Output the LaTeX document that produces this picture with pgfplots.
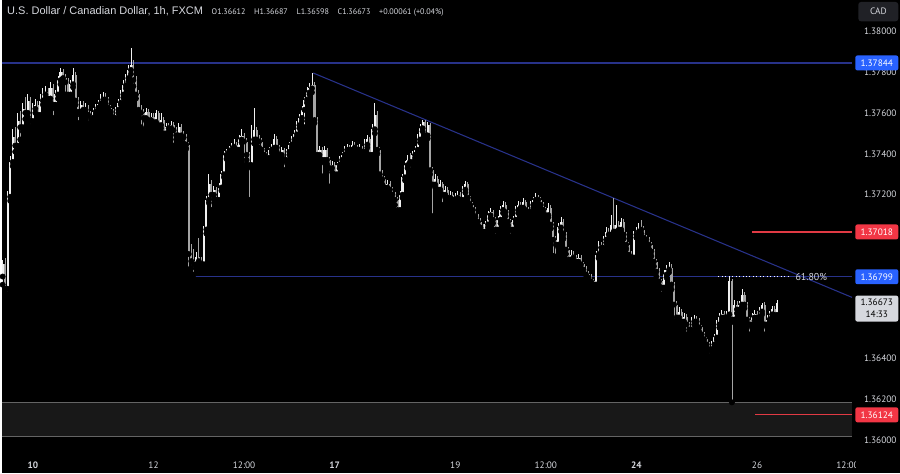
\documentclass[border=0pt]{standalone}
\usepackage{fontspec}
\setmainfont{PT Sans}
\newfontfamily\titlefont{Liberation Sans}
\usepackage{pgfplots}
\usepackage{pgfplotstable}
\pgfplotsset{compat=1.18}
\definecolor{txt}{RGB}{214,216,222}
\definecolor{upc}{RGB}{240,240,240}
\definecolor{dnc}{RGB}{165,165,165}
\definecolor{hblue}{RGB}{41,98,255}
\definecolor{lblue}{RGB}{40,50,138}
\definecolor{lred}{RGB}{225,58,68}
\definecolor{bred}{RGB}{242,54,69}
\definecolor{boxc}{RGB}{24,24,24}
\definecolor{boxl}{RGB}{100,100,100}
\definecolor{cadbg}{RGB}{32,33,38}

\pgfplotstableread{
t o h l c
-12 1.36800 1.36880 1.36760 1.36860
-11 1.36860 1.36890 1.36720 1.36740
-10 1.36740 1.37220 1.36710 1.37190
-9 1.37190 1.37390 1.37170 1.37360
-8 1.37360 1.37520 1.37340 1.37480
-7 1.37480 1.37530 1.37410 1.37440
-6 1.37440 1.37600 1.37420 1.37560
-5 1.37560 1.37610 1.37470 1.37530
-4 1.37530 1.37650 1.37510 1.37620
-3 1.37620 1.37680 1.37570 1.37600
-2 1.37600 1.37690 1.37580 1.37660
-1 1.37660 1.37680 1.37530 1.37560
0 1.37560 1.37650 1.37540 1.37620
1 1.37620 1.37670 1.37600 1.37640
2 1.37640 1.37660 1.37570 1.37590
3 1.37590 1.37690 1.37580 1.37660
4 1.37660 1.37720 1.37640 1.37690
5 1.37690 1.37730 1.37670 1.37700
6 1.37700 1.37720 1.37650 1.37670
7 1.37670 1.37750 1.37650 1.37720
8 1.37720 1.37740 1.37575 1.37640
9 1.37640 1.37710 1.37620 1.37690
10 1.37690 1.37780 1.37670 1.37760
11 1.37760 1.37820 1.37740 1.37800
12 1.37800 1.37815 1.37750 1.37770
13 1.37770 1.37790 1.37690 1.37750
14 1.37750 1.37770 1.37670 1.37690
15 1.37690 1.37760 1.37670 1.37740
16 1.37740 1.37820 1.37725 1.37785
17 1.37785 1.37800 1.37640 1.37660
18 1.37660 1.37680 1.37550 1.37605
19 1.37605 1.37660 1.37590 1.37640
20 1.37640 1.37660 1.37600 1.37615
21 1.37615 1.37650 1.37600 1.37625
22 1.37625 1.37640 1.37545 1.37590
23 1.37590 1.37610 1.37555 1.37575
24 1.37575 1.37625 1.37560 1.37605
25 1.37605 1.37645 1.37590 1.37625
26 1.37625 1.37665 1.37610 1.37645
27 1.37645 1.37690 1.37630 1.37665
28 1.37665 1.37700 1.37650 1.37680
29 1.37680 1.37695 1.37645 1.37665
30 1.37665 1.37680 1.37605 1.37625
31 1.37625 1.37640 1.37590 1.37605
32 1.37605 1.37620 1.37550 1.37575
33 1.37575 1.37630 1.37560 1.37615
34 1.37615 1.37670 1.37600 1.37650
35 1.37650 1.37710 1.37640 1.37690
36 1.37690 1.37760 1.37675 1.37735
37 1.37735 1.37790 1.37720 1.37770
38 1.37770 1.37835 1.37755 1.37810
39 1.37810 1.37915 1.37790 1.37835
40 1.37835 1.37860 1.37730 1.37760
41 1.37760 1.37780 1.37670 1.37690
42 1.37690 1.37710 1.37595 1.37615
43 1.37615 1.37640 1.37530 1.37600
44 1.37600 1.37620 1.37515 1.37575
45 1.37575 1.37625 1.37560 1.37605
46 1.37605 1.37620 1.37550 1.37565
47 1.37565 1.37600 1.37545 1.37580
48 1.37580 1.37600 1.37535 1.37555
49 1.37555 1.37615 1.37540 1.37600
50 1.37600 1.37610 1.37520 1.37540
51 1.37540 1.37600 1.37525 1.37565
52 1.37565 1.37580 1.37470 1.37500
53 1.37500 1.37550 1.37485 1.37530
54 1.37530 1.37550 1.37505 1.37525
55 1.37525 1.37560 1.37510 1.37540
56 1.37540 1.37555 1.37440 1.37515
57 1.37515 1.37530 1.37470 1.37490
58 1.37490 1.37550 1.37475 1.37530
59 1.37530 1.37545 1.37470 1.37490
60 1.37490 1.37510 1.37450 1.37480
61 1.37480 1.37495 1.37425 1.37445
62 1.37445 1.37460 1.36835 1.36910
63 1.36910 1.36960 1.36840 1.36875
64 1.36875 1.36935 1.36810 1.36860
65 1.36860 1.36920 1.36840 1.36895
66 1.36895 1.36990 1.36860 1.36875
67 1.36875 1.36895 1.36835 1.36860
68 1.36860 1.37045 1.36840 1.37030
69 1.37030 1.37195 1.37010 1.37175
70 1.37175 1.37300 1.37160 1.37250
71 1.37250 1.37270 1.37125 1.37200
72 1.37200 1.37245 1.37180 1.37225
73 1.37225 1.37240 1.37150 1.37175
74 1.37175 1.37255 1.37160 1.37235
75 1.37235 1.37315 1.37220 1.37300
76 1.37300 1.37415 1.37285 1.37395
77 1.37395 1.37425 1.37375 1.37410
78 1.37410 1.37440 1.37380 1.37420
79 1.37420 1.37455 1.37400 1.37435
80 1.37435 1.37470 1.37420 1.37445
81 1.37445 1.37460 1.37400 1.37420
82 1.37420 1.37490 1.37405 1.37470
83 1.37470 1.37520 1.37455 1.37485
84 1.37485 1.37500 1.37345 1.37460
85 1.37460 1.37475 1.37370 1.37395
86 1.37395 1.37410 1.37175 1.37345
87 1.37345 1.37540 1.37330 1.37470
88 1.37470 1.37625 1.37450 1.37515
89 1.37515 1.37530 1.37450 1.37470
90 1.37470 1.37490 1.37430 1.37460
91 1.37460 1.37475 1.37400 1.37420
92 1.37420 1.37430 1.37375 1.37395
93 1.37395 1.37410 1.37360 1.37380
94 1.37380 1.37435 1.37370 1.37420
95 1.37420 1.37450 1.37405 1.37430
96 1.37430 1.37495 1.37415 1.37470
97 1.37470 1.37485 1.37410 1.37430
98 1.37430 1.37445 1.37380 1.37395
99 1.37395 1.37435 1.37385 1.37420
100 1.37420 1.37430 1.37320 1.37370
101 1.37370 1.37425 1.37355 1.37410
102 1.37410 1.37460 1.37395 1.37445
103 1.37445 1.37485 1.37430 1.37470
104 1.37470 1.37515 1.37455 1.37495
105 1.37495 1.37560 1.37480 1.37540
106 1.37540 1.37595 1.37525 1.37575
107 1.37575 1.37635 1.37560 1.37615
108 1.37615 1.37680 1.37530 1.37665
109 1.37665 1.37725 1.37650 1.37700
110 1.37700 1.37745 1.37690 1.37720
111 1.37720 1.37795 1.37700 1.37735
112 1.37735 1.37750 1.37550 1.37565
113 1.37565 1.37580 1.37375 1.37395
114 1.37395 1.37440 1.37380 1.37420
115 1.37420 1.37435 1.37290 1.37370
116 1.37370 1.37440 1.37355 1.37420
117 1.37420 1.37430 1.37350 1.37370
118 1.37370 1.37385 1.37240 1.37330
119 1.37330 1.37365 1.37310 1.37345
120 1.37345 1.37360 1.37280 1.37300
121 1.37300 1.37360 1.37285 1.37345
122 1.37345 1.37390 1.37330 1.37370
123 1.37370 1.37410 1.37355 1.37395
124 1.37395 1.37440 1.37380 1.37420
125 1.37420 1.37450 1.37405 1.37430
126 1.37430 1.37445 1.37400 1.37420
127 1.37420 1.37465 1.37405 1.37445
128 1.37445 1.37460 1.37410 1.37430
129 1.37430 1.37445 1.37400 1.37420
130 1.37420 1.37450 1.37405 1.37430
131 1.37430 1.37440 1.37390 1.37410
132 1.37410 1.37470 1.37395 1.37445
133 1.37445 1.37490 1.37430 1.37470
134 1.37470 1.37480 1.37370 1.37395
135 1.37395 1.37545 1.37380 1.37520
136 1.37520 1.37650 1.37500 1.37590
137 1.37590 1.37610 1.37400 1.37420
138 1.37420 1.37435 1.37280 1.37300
139 1.37300 1.37320 1.37250 1.37275
140 1.37275 1.37290 1.37210 1.37235
141 1.37235 1.37270 1.37220 1.37250
142 1.37250 1.37265 1.37205 1.37225
143 1.37225 1.37240 1.37180 1.37200
144 1.37200 1.37215 1.37150 1.37175
145 1.37175 1.37190 1.37100 1.37125
146 1.37125 1.37220 1.37110 1.37200
147 1.37200 1.37300 1.37185 1.37285
148 1.37285 1.37365 1.37270 1.37345
149 1.37345 1.37395 1.37330 1.37370
150 1.37370 1.37405 1.37320 1.37360
151 1.37360 1.37415 1.37345 1.37395
152 1.37395 1.37440 1.37380 1.37420
153 1.37420 1.37495 1.37405 1.37470
154 1.37470 1.37545 1.37455 1.37525
155 1.37525 1.37565 1.37510 1.37555
156 1.37555 1.37565 1.37470 1.37490
157 1.37490 1.37555 1.37475 1.37540
158 1.37540 1.37550 1.37300 1.37320
159 1.37320 1.37335 1.37095 1.37250
160 1.37250 1.37300 1.37235 1.37275
161 1.37275 1.37290 1.37205 1.37225
162 1.37225 1.37270 1.37210 1.37250
163 1.37250 1.37260 1.37150 1.37200
164 1.37200 1.37245 1.37185 1.37225
165 1.37225 1.37240 1.37165 1.37185
166 1.37185 1.37220 1.37170 1.37200
167 1.37200 1.37215 1.37150 1.37175
168 1.37175 1.37210 1.37160 1.37185
169 1.37185 1.37220 1.37170 1.37200
170 1.37200 1.37215 1.37160 1.37175
171 1.37175 1.37245 1.37160 1.37225
172 1.37225 1.37265 1.37210 1.37250
173 1.37250 1.37260 1.37165 1.37185
174 1.37185 1.37195 1.37130 1.37150
175 1.37150 1.37165 1.37105 1.37125
176 1.37125 1.37140 1.37070 1.37090
177 1.37090 1.37105 1.37050 1.37068
178 1.37068 1.37085 1.37020 1.37040
179 1.37040 1.37055 1.36995 1.37020
180 1.37020 1.37070 1.37005 1.37055
181 1.37055 1.37120 1.37040 1.37100
182 1.37100 1.37135 1.37085 1.37115
183 1.37115 1.37125 1.37060 1.37078
184 1.37078 1.37090 1.36995 1.37030
185 1.37030 1.37095 1.37015 1.37078
186 1.37078 1.37145 1.37060 1.37125
187 1.37125 1.37170 1.37110 1.37150
188 1.37150 1.37165 1.37095 1.37115
189 1.37115 1.37125 1.37050 1.37068
190 1.37068 1.37080 1.36995 1.37030
191 1.37030 1.37095 1.37015 1.37078
192 1.37078 1.37145 1.37060 1.37125
193 1.37125 1.37170 1.37110 1.37150
194 1.37150 1.37165 1.37115 1.37137
195 1.37137 1.37185 1.37120 1.37165
196 1.37165 1.37175 1.37105 1.37125
197 1.37125 1.37140 1.37095 1.37115
198 1.37115 1.37170 1.37100 1.37150
199 1.37150 1.37190 1.37135 1.37175
200 1.37175 1.37210 1.37160 1.37185
201 1.37185 1.37200 1.37155 1.37175
202 1.37175 1.37190 1.37130 1.37150
203 1.37150 1.37165 1.37105 1.37125
204 1.37125 1.37140 1.37080 1.37100
205 1.37100 1.37160 1.37090 1.37137
206 1.37137 1.37150 1.37035 1.37054
207 1.37054 1.37065 1.36900 1.36980
208 1.36980 1.37000 1.36898 1.36956
209 1.36956 1.37060 1.36940 1.37040
210 1.37040 1.37093 1.37020 1.37068
211 1.37068 1.37080 1.36985 1.37005
212 1.37005 1.37020 1.36910 1.36932
213 1.36932 1.36945 1.36860 1.36883
214 1.36883 1.36930 1.36870 1.36907
215 1.36907 1.36925 1.36870 1.36893
216 1.36893 1.36905 1.36850 1.36873
217 1.36873 1.36910 1.36860 1.36893
218 1.36893 1.36905 1.36840 1.36859
219 1.36859 1.36870 1.36815 1.36834
220 1.36834 1.36850 1.36790 1.36810
221 1.36810 1.36825 1.36775 1.36795
222 1.36795 1.36810 1.36755 1.36776
223 1.36776 1.36790 1.36746 1.36761
224 1.36761 1.36925 1.36750 1.36907
225 1.36907 1.36975 1.36890 1.36956
226 1.36956 1.36970 1.36920 1.36941
227 1.36941 1.37000 1.36925 1.36980
228 1.36980 1.37040 1.36965 1.37020
229 1.37020 1.37035 1.36985 1.37005
230 1.37005 1.37102 1.36990 1.37054
231 1.37054 1.37185 1.36995 1.37020
232 1.37020 1.37151 1.37005 1.37054
233 1.37054 1.37070 1.37010 1.37029
234 1.37029 1.37085 1.37015 1.37068
235 1.37068 1.37080 1.36985 1.37005
236 1.37005 1.37020 1.36935 1.36956
237 1.36956 1.36970 1.36885 1.36907
238 1.36907 1.36925 1.36873 1.36893
239 1.36893 1.37025 1.36880 1.37005
240 1.37005 1.37040 1.36990 1.37020
241 1.37020 1.37060 1.37005 1.37039
242 1.37039 1.37078 1.37010 1.37029
243 1.37029 1.37045 1.36970 1.36990
244 1.36990 1.37005 1.36960 1.36980
245 1.36980 1.36995 1.36935 1.36956
246 1.36956 1.36970 1.36900 1.36922
247 1.36922 1.36935 1.36850 1.36873
248 1.36873 1.36885 1.36800 1.36824
249 1.36824 1.36840 1.36755 1.36776
250 1.36776 1.36790 1.36712 1.36746
251 1.36746 1.36830 1.36735 1.36810
252 1.36810 1.36855 1.36795 1.36834
253 1.36834 1.36873 1.36820 1.36844
254 1.36844 1.36860 1.36737 1.36761
255 1.36761 1.36775 1.36580 1.36663
256 1.36663 1.36680 1.36580 1.36600
257 1.36600 1.36650 1.36585 1.36629
258 1.36629 1.36640 1.36560 1.36580
259 1.36580 1.36620 1.36565 1.36600
260 1.36600 1.36615 1.36517 1.36566
261 1.36566 1.36580 1.36520 1.36541
262 1.36541 1.36600 1.36530 1.36580
263 1.36580 1.36610 1.36565 1.36590
264 1.36590 1.36605 1.36560 1.36580
265 1.36580 1.36595 1.36530 1.36551
266 1.36551 1.36565 1.36500 1.36517
267 1.36517 1.36530 1.36475 1.36493
268 1.36493 1.36505 1.36450 1.36468
269 1.36468 1.36480 1.36410 1.36444
270 1.36444 1.36485 1.36430 1.36468
271 1.36468 1.36520 1.36455 1.36502
272 1.36502 1.36590 1.36490 1.36566
273 1.36566 1.36620 1.36550 1.36600
274 1.36600 1.36635 1.36585 1.36615
275 1.36615 1.36630 1.36585 1.36600
276 1.36600 1.36630 1.36590 1.36615
277 1.36615 1.36805 1.36585 1.36776
278 1.36776 1.36790 1.36185 1.36590
279 1.36590 1.36685 1.36575 1.36663
280 1.36663 1.36680 1.36620 1.36639
281 1.36639 1.36680 1.36625 1.36663
282 1.36663 1.36737 1.36650 1.36712
283 1.36712 1.36725 1.36645 1.36663
284 1.36663 1.36675 1.36570 1.36590
285 1.36590 1.36600 1.36517 1.36566
286 1.36566 1.36620 1.36550 1.36600
287 1.36600 1.36635 1.36585 1.36615
288 1.36615 1.36630 1.36580 1.36600
289 1.36600 1.36650 1.36585 1.36629
290 1.36629 1.36673 1.36615 1.36663
291 1.36663 1.36675 1.36517 1.36566
292 1.36566 1.36610 1.36550 1.36590
293 1.36590 1.36630 1.36575 1.36615
294 1.36615 1.36655 1.36600 1.36639
295 1.36639 1.36655 1.36600 1.36612
296 1.36612 1.36687 1.36598 1.36673
}\candles

\begin{document}
\begin{tikzpicture}[x=1pt,y=1pt]
\fill[black] (0,0) rectangle (675,-355.5);
\begin{axis}[
  at={(0pt,0pt)}, anchor=north west,
  scale only axis, width=639pt, height=339pt,
  xmin=-12.3, xmax=325.8, ymin=1.359463, ymax=1.381512,
  axis line style={draw=none}, major tick length=0pt,
  xtick={0,48,84,120,168,204,240,288,324},
  xticklabels={\textbf{10},12,12:00,\textbf{17},19,12:00,\textbf{24},26,12:00},
  ytick={1.360,1.362,1.364,1.372,1.374,1.376,1.378,1.380},
  yticklabels={1.36000,1.36200,1.36400,1.37200,1.37400,1.37600,1.37800,1.38000},
  yticklabel pos=right,
  tick label style={font=\fontsize{7}{8}\selectfont, text=txt, inner sep=0pt},
  xticklabel style={anchor=center, yshift=-10.5pt},
  yticklabel style={anchor=east, xshift=33.6pt},
  clip=true,
]
% dark zone
\addplot[fill=boxc, draw=none, forget plot] coordinates {(-12.3,1.36020) (325.8,1.36020) (325.8,1.36185) (-12.3,1.36185)} -- cycle;
\addplot[boxl, line width=0.6pt, forget plot] coordinates {(-12.3,1.36185) (325.8,1.36185)};
\addplot[boxl, line width=0.6pt, forget plot] coordinates {(-12.3,1.36020) (325.8,1.36020)};
% levels
\addplot[lblue, line width=0.8pt] coordinates {(-12.3,1.37844) (325.8,1.37844)};
\addplot[lblue, line width=0.8pt] coordinates {(64.3,1.36799) (325.8,1.36799)};
\addplot[lblue, line width=0.8pt] coordinates {(111.5,1.37795) (325.8,1.36698)};
\addplot[lred, line width=0.9pt] coordinates {(286.1,1.37018) (325.8,1.37018)};
\addplot[lred, line width=0.9pt] coordinates {(287.3,1.36124) (325.8,1.36124)};
% candles: wicks
\addplot[only marks, mark=none, x filter/.expression={\thisrow{c}>=\thisrow{o} ? \thisrow{t} : nan},
  error bars/.cd, y dir=plus, y explicit, error mark=none,
  error bar style={draw=upc, line width=0.6pt}]
  table[x=t, y=l, y error expr=\thisrow{h}-\thisrow{l}] {\candles};
\addplot[only marks, mark=none, x filter/.expression={\thisrow{c}<\thisrow{o} ? \thisrow{t} : nan},
  error bars/.cd, y dir=plus, y explicit, error mark=none,
  error bar style={draw=dnc, line width=0.6pt}]
  table[x=t, y=l, y error expr=\thisrow{h}-\thisrow{l}] {\candles};
% candles: bodies
\addplot[only marks, mark=none, x filter/.expression={\thisrow{c}>=\thisrow{o} ? \thisrow{t} : nan},
  error bars/.cd, y dir=plus, y explicit, error mark=none,
  error bar style={draw=upc, line width=1.6pt}]
  table[x=t, y=o, y error expr=\thisrow{c}-\thisrow{o}] {\candles};
\addplot[only marks, mark=none, x filter/.expression={\thisrow{c}<\thisrow{o} ? \thisrow{t} : nan},
  error bars/.cd, y dir=plus, y explicit, error mark=none,
  error bar style={draw=dnc, line width=1.6pt}]
  table[x=t, y=c, y error expr=\thisrow{o}-\thisrow{c}] {\candles};
% fib level
\addplot[white, line width=0.6pt, dotted] coordinates {(272.6,1.36799) (301.2,1.36799)};
\node[anchor=west, text=txt, font=\fontsize{7.5}{8}\selectfont, inner sep=0pt] at (axis cs:303.2,1.36799) {61.80\%};
% badge anchors
\coordinate (b1) at (axis cs:325.8,1.37844);
\coordinate (b2) at (axis cs:325.8,1.37018);
\coordinate (b3) at (axis cs:325.8,1.36799);
\coordinate (b4) at (axis cs:325.8,1.36708);
\coordinate (b5) at (axis cs:325.8,1.36124);
\end{axis}
% cover cut tick label under price scale
\fill[black] (642,-341) rectangle (675,-355.5);
\tikzset{badge/.style={anchor=west, xshift=2.25pt, minimum width=32.25pt, minimum height=11.25pt, inner sep=0pt, rounded corners=1.5pt, font=\fontsize{7}{8}\selectfont}}
\node[badge, fill=hblue, text=white] at (b1) {1.37844};
\node[badge, fill=bred, text=white] at (b2) {1.37018};
\node[badge, fill=hblue, text=white] at (b3) {1.36799};
\node[badge, fill=bred, text=white] at (b5) {1.36124};
\node[anchor=north west, xshift=2.25pt, minimum width=32.25pt, minimum height=19.5pt, inner sep=1pt, rounded corners=1.5pt, fill=txt, text=black, align=center, font=\fontsize{7}{9}\selectfont] at (b4) {1.36673\\14:33};
% CAD box
\node[anchor=north west, minimum width=30pt, minimum height=14.5pt, inner sep=0pt, rounded corners=2pt, fill=cadbg, text=txt, font=\fontsize{7}{8}\selectfont] at (643.5,-1.2) {CAD};
% title
\node[anchor=west, text=txt, inner sep=0pt] at (3.8,-8.3) {{\titlefont\fontsize{8.25}{10}\selectfont U.S. Dollar / Canadian Dollar, 1h, FXCM}\hspace{6.5pt}{\fontsize{6.1}{8}\selectfont O1.36612\hspace{6.5pt}H1.36687\hspace{6.5pt}L1.36598\hspace{6.5pt}C1.36673\hspace{6.5pt}+0.00061 (+0.04\%)}};
\end{tikzpicture}
\end{document}
